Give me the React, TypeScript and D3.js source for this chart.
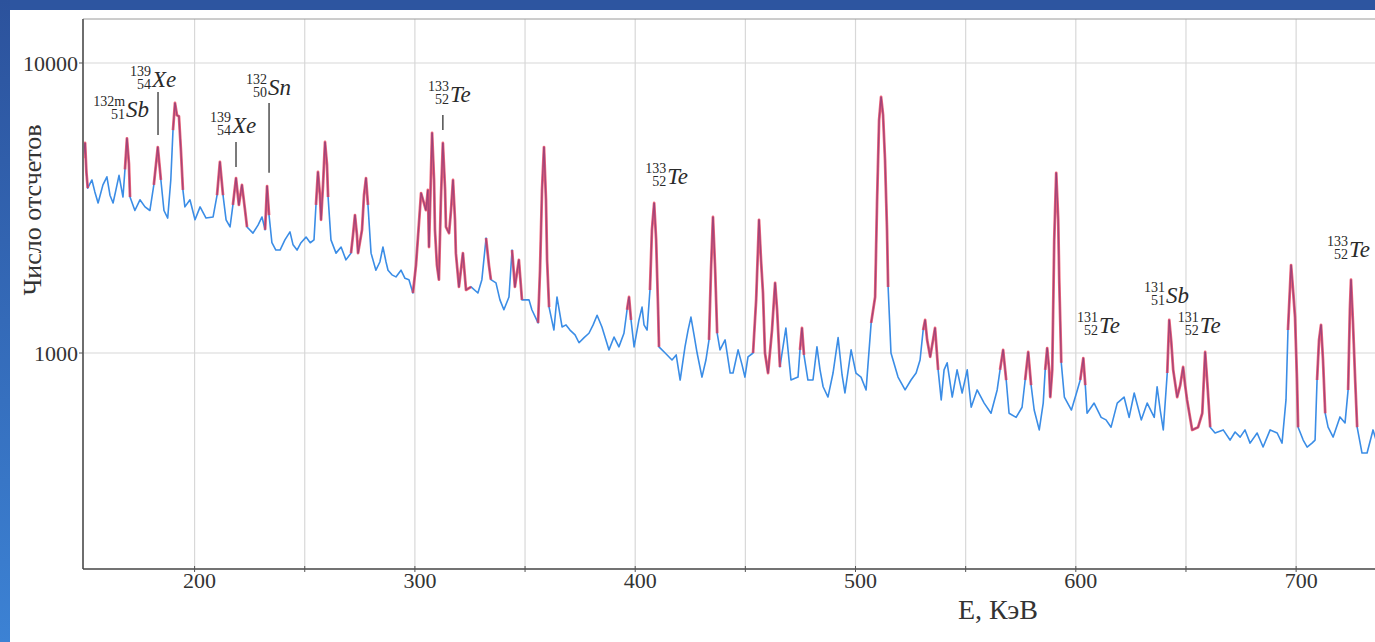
import React from 'react';
import * as d3 from 'd3';

// Gamma spectrum: [energy keV, counts]
const spectrum: [number, number][] = [
  [149.4, 4700], [150.3, 5300], [150.9, 4200], [151.5, 3700], [153.4, 3950], [154.7, 3600], [156.2, 3290],
  [158.4, 3800], [160.2, 4050], [161.6, 3500], [163.0, 3290], [164.3, 3650], [165.7, 4100], [167.5, 3450],
  [168.4, 4300], [169.3, 5500], [170.2, 4500], [170.7, 3450], [172.9, 3100], [175.2, 3375], [177.5, 3190],
  [179.7, 3100], [181.5, 3800], [183.3, 5130], [184.7, 3950], [186.1, 3100], [187.8, 2920], [189.2, 3950],
  [190.2, 5870], [191.1, 7280], [192.0, 6600], [192.9, 6550], [193.8, 5000], [194.7, 3650], [195.6, 3190],
  [197.9, 3375], [200.2, 2880], [202.5, 3190], [205.2, 2920], [208.4, 2945], [210.2, 3500], [211.5, 4560],
  [212.9, 3500], [214.3, 2880], [216.1, 2720], [217.4, 3240], [218.8, 4010], [220.1, 3240], [221.5, 3800],
  [222.9, 3110], [223.8, 2720], [226.5, 2590], [228.8, 2760], [230.6, 2945], [232.0, 2660], [232.9, 3765],
  [233.8, 2990], [235.1, 2400], [236.9, 2265], [238.8, 2265], [241.0, 2455], [243.3, 2615], [244.7, 2360],
  [246.5, 2265], [248.3, 2400], [250.6, 2510], [252.5, 2400], [254.2, 2455], [255.1, 3240], [256.0, 4210],
  [256.9, 3500], [257.4, 2880], [258.3, 3800], [259.2, 5340], [260.1, 4450], [260.6, 3450], [261.9, 2455],
  [264.2, 2210], [266.5, 2320], [268.7, 2095], [271.0, 2210], [271.9, 2550], [272.8, 2990], [273.7, 2550],
  [274.2, 2210], [276.0, 2660], [276.9, 3500], [277.8, 4010], [278.7, 3240], [280.1, 2210], [282.3, 1930],
  [284.1, 2060], [285.5, 2320], [286.9, 2060], [287.8, 1930], [289.6, 1860], [291.4, 1830], [293.7, 1930],
  [295.5, 1810], [297.3, 1790], [299.1, 1610], [300.5, 2010], [301.4, 2510], [302.8, 3560], [304.1, 3290],
  [305.0, 3110], [305.9, 3650], [306.4, 2320], [307.8, 5740], [308.7, 3950], [309.1, 2660], [310.0, 2010],
  [310.9, 1790], [311.8, 3375], [312.7, 5300], [313.7, 3650], [314.1, 2720], [315.5, 2590], [316.4, 3110],
  [317.3, 3950], [318.2, 2880], [318.6, 2210], [320.0, 1690], [321.8, 2210], [323.2, 1650], [325.5, 1690],
  [328.6, 1610], [330.4, 1790], [332.3, 2490], [333.6, 2010], [334.5, 1790], [336.8, 1745], [338.6, 1525],
  [340.4, 1410], [342.7, 1560], [344.1, 2265], [345.4, 1690], [347.2, 2095], [348.6, 1525], [351.8, 1525],
  [353.1, 1410], [355.9, 1270], [356.8, 1930], [357.7, 3650], [358.6, 5130], [359.5, 3375], [360.0, 2095],
  [360.9, 1440], [363.1, 1200], [364.5, 1560], [366.8, 1230], [368.6, 1250], [370.4, 1200], [372.7, 1155],
  [374.5, 1085], [376.8, 1130], [379.0, 1170], [380.9, 1250], [382.7, 1350], [384.9, 1230], [388.1, 1025],
  [390.4, 1135], [392.6, 1050], [394.9, 1170], [396.3, 1410], [397.2, 1560], [398.1, 1300], [399.5, 1050],
  [401.7, 1300], [403.1, 1440], [404.0, 1250], [405.4, 1200], [406.7, 1650], [407.6, 2660], [408.6, 3290],
  [409.5, 2455], [410.4, 1410], [410.8, 1050], [413.6, 1000], [416.7, 946], [418.6, 985], [420.4, 807],
  [422.6, 1050], [424.0, 1200], [425.3, 1330], [426.7, 1155], [428.1, 1000], [430.3, 826], [432.1, 946],
  [433.5, 1110], [434.4, 1930], [435.3, 2945], [436.3, 1930], [437.2, 1170], [438.5, 1025], [440.8, 1110],
  [443.1, 853], [444.4, 853], [446.7, 1025], [448.5, 910], [449.8, 826], [451.2, 970], [453.5, 1000],
  [454.9, 1525], [456.2, 2880], [457.1, 2095], [458.0, 1610], [458.9, 1000], [460.3, 853], [462.1, 1200],
  [463.5, 1745], [464.4, 1410], [465.7, 895], [468.4, 1220], [470.7, 807], [473.9, 826], [474.8, 1025],
  [475.7, 1220], [476.6, 985], [478.4, 807], [480.7, 807], [482.5, 1050], [483.9, 875], [485.3, 765],
  [487.5, 705], [489.8, 853], [492.1, 1130], [493.9, 840], [495.2, 728], [498.0, 1025], [500.2, 853],
  [502.5, 826], [504.8, 746], [507.1, 1270], [508.9, 1560], [509.8, 3375], [510.7, 6350], [511.6, 7635],
  [512.5, 6620], [513.4, 4630], [514.3, 2660], [514.8, 1690], [516.1, 1000], [519.3, 826], [522.5, 746],
  [525.2, 807], [527.5, 853], [529.3, 946], [530.7, 1200], [531.6, 1300], [532.5, 1110], [533.9, 970],
  [535.2, 1110], [536.1, 1220], [537.5, 875], [538.9, 689], [540.2, 875], [541.6, 925], [543.9, 705],
  [546.1, 875], [548.4, 728], [550.7, 875], [552.5, 650], [555.2, 746], [558.4, 672], [561.5, 620],
  [564.3, 746], [565.6, 875], [567.0, 1025], [568.4, 807], [569.7, 620], [572.9, 600], [575.6, 650],
  [577.0, 807], [578.4, 1008], [579.7, 775], [581.1, 636], [583.4, 543], [585.2, 672], [586.1, 875],
  [587.0, 1040], [587.9, 875], [588.4, 705], [589.3, 875], [590.2, 2455], [591.1, 4180], [592.0, 2880],
  [592.5, 1745], [593.4, 925], [594.8, 705], [598.0, 636], [600.7, 746], [602.0, 807], [603.4, 960],
  [604.3, 775], [605.1, 620], [608.3, 672], [611.5, 600], [613.7, 588], [616.0, 555], [618.8, 672],
  [621.9, 705], [624.2, 600], [626.5, 728], [629.7, 588], [632.4, 672], [635.6, 600], [636.9, 765],
  [638.3, 636], [639.7, 543], [641.5, 853], [642.4, 1300], [643.3, 1100], [644.2, 875], [646.0, 705],
  [647.4, 775], [648.7, 895], [649.6, 775], [650.5, 689], [652.8, 543], [655.5, 555], [657.4, 620],
  [658.7, 1008], [659.6, 807], [661.0, 555], [663.2, 530], [666.9, 543], [670.0, 501], [672.3, 534],
  [674.6, 513], [676.8, 543], [679.1, 489], [682.3, 530], [685.0, 474], [688.2, 543], [691.4, 530],
  [693.6, 489], [695.4, 689], [696.3, 1200], [697.7, 2010], [698.6, 1650], [699.5, 1330], [700.4, 807],
  [700.9, 555], [703.2, 501], [705.0, 474], [707.2, 489], [708.6, 501], [709.5, 807], [710.4, 1110],
  [711.3, 1250], [712.2, 946], [713.2, 620], [714.5, 555], [716.8, 513], [719.9, 602], [722.2, 574],
  [723.6, 746], [724.4, 1410], [724.9, 1790], [725.8, 1270], [726.8, 807], [727.7, 555], [729.9, 452],
  [732.2, 452], [734.9, 543], [736.3, 501],
];

// Energy ranges drawn with the fitted (red) curve
const fitRanges: [number, number][] = [
  [149.4, 152], [168, 171], [181, 186], [189.5, 195], [209.5, 213.5], [217, 224], [231.5, 234.5],
  [255, 261.5], [271, 279.5], [299, 326], [330.5, 334.5], [343, 349.5], [355.5, 361], [395.5, 399],
  [405.5, 411], [433.5, 437.5], [453.5, 466], [474.5, 477.5], [507, 516], [529.5, 538.5], [565.5, 569],
  [577, 580], [585.5, 594], [602, 605], [640, 661.5], [695.5, 701], [709.5, 713.5], [723.5, 728],
];

const xTickLabels = [200, 300, 400, 500, 600, 700];
const xGridValues = [200, 250, 300, 350, 400, 450, 500, 550, 600, 650, 700];
const yTickValues = [1000, 10000];

const isotopes = [
  { mass: '132m', z: '51', el: 'Sb', e: 168.9, c: 6500 },
  { mass: '139', z: '54', el: 'Xe', e: 180.7, c: 8270 },
  { mass: '139', z: '54', el: 'Xe', e: 217.0, c: 5740 },
  { mass: '132', z: '50', el: 'Sn', e: 233.3, c: 7760 },
  { mass: '133', z: '52', el: 'Te', e: 315.9, c: 7340 },
  { mass: '133', z: '52', el: 'Te', e: 414.5, c: 3830 },
  { mass: '131', z: '52', el: 'Te', e: 610.5, c: 1170 },
  { mass: '131', z: '51', el: 'Sb', e: 640.9, c: 1490 },
  { mass: '131', z: '52', el: 'Te', e: 656.3, c: 1170 },
  { mass: '133', z: '52', el: 'Te', e: 724.0, c: 2140 },
];

const leaders = [
  { e: 183.4, from: 7940, to: 5650 },
  { e: 218.8, from: 5340, to: 4380 },
  { e: 233.8, from: 7280, to: 4180 },
  { e: 312.7, from: 6620, to: 5880 },
];

export default function App() {
  const W = 1375, H = 642;
  const left = 83, right = 1375, top = 19, bottom = 569;
  const x = d3.scaleLinear().domain([149.35, 735.8]).range([left, right]);
  const y = d3.scaleLog().domain([180, 14180]).range([bottom, top]);
  const line = d3.line<[number, number]>().x(d => x(d[0])).y(d => y(d[1]));
  const serif = '"Liberation Serif", "Times New Roman", serif';

  return (
    <svg width={W} height={H} style={{ position: 'absolute', left: 0, top: 0, display: 'block' }}>
      <defs>
        <linearGradient id="leftStrip" x1="0" y1="0" x2="0" y2="1">
          <stop offset="0" stopColor="#2c529c" />
          <stop offset="1" stopColor="#3c82d4" />
        </linearGradient>
        <clipPath id="plotClip">
          <rect x={left} y={top} width={right - left} height={bottom - top} />
        </clipPath>
      </defs>
      <rect x={0} y={0} width={W} height={H} fill="#ffffff" />
      <rect x={0} y={0} width={W} height={10} fill="#2d55a0" />
      <rect x={0} y={0} width={10} height={H} fill="url(#leftStrip)" />

      {/* grid */}
      {xGridValues.map(v => (
        <line key={'gx' + v} x1={x(v)} x2={x(v)} y1={top} y2={bottom} stroke="#d8d8d8" strokeWidth={1.2} />
      ))}
      {yTickValues.map(v => (
        <line key={'gy' + v} x1={left} x2={right} y1={y(v)} y2={y(v)} stroke="#d8d8d8" strokeWidth={1.2} />
      ))}
      <line x1={left} x2={right} y1={top} y2={top} stroke="#9a9a9a" strokeWidth={1} />

      {/* spectrum */}
      <g clipPath="url(#plotClip)">
        <path d={line(spectrum) || ''} fill="none" stroke="#3b8de6" strokeWidth={1.6} strokeLinejoin="round" />
        {fitRanges.map(([a, b], i) => {
          const pts = spectrum.filter(p => p[0] >= a && p[0] <= b);
          return (
            <g key={'fit' + i}>
              <path d={line(pts) || ''} fill="none" stroke="#ee4058" strokeOpacity={0.78} strokeWidth={2.8} strokeLinejoin="round" />
              <path d={line(pts) || ''} fill="none" stroke="#5b2a78" strokeOpacity={0.35} strokeWidth={1} strokeLinejoin="round" />
            </g>
          );
        })}
      </g>

      {/* axes */}
      <line x1={left} x2={left} y1={top} y2={bottom} stroke="#6e6e6e" strokeWidth={2} />
      <line x1={left} x2={right} y1={bottom} y2={bottom} stroke="#444" strokeWidth={1.5} />
      {xGridValues.map(v => (
        <line key={'tx' + v} x1={x(v)} x2={x(v)} y1={bottom - 3} y2={bottom + 3} stroke="#555" strokeWidth={1} />
      ))}
      {yTickValues.map(v => (
        <line key={'ty' + v} x1={left - 4} x2={left} y1={y(v)} y2={y(v)} stroke="#555" strokeWidth={1} />
      ))}
      {xTickLabels.map(v => (
        <text key={'lx' + v} x={x(v) + 5} y={bottom + 19} textAnchor="middle" fontFamily={serif} fontSize={22} fill="#333">
          {v}
        </text>
      ))}
      {yTickValues.map(v => (
        <text key={'ly' + v} x={78} y={y(v) + 8} textAnchor="end" fontFamily={serif} fontSize={22} fill="#333">
          {v}
        </text>
      ))}
      <text x={998} y={619} textAnchor="middle" fontFamily={serif} fontSize={28} fill="#333">E, КэВ</text>
      <text transform="translate(41,210) rotate(-90)" textAnchor="middle" fontFamily={serif} fontSize={26} fill="#333">
        Число отсчетов
      </text>

      {/* isotope annotations */}
      {leaders.map((l, i) => (
        <line key={'ld' + i} x1={x(l.e)} x2={x(l.e)} y1={y(l.from)} y2={y(l.to)} stroke="#333" strokeWidth={1.3} />
      ))}
      {isotopes.map((a, i) => {
        const ax = x(a.e), ay = y(a.c);
        return (
          <g key={'iso' + i} fill="#2a2a2a" fontFamily={serif}>
            <text x={ax - 1} y={ay - 11} textAnchor="end" fontSize={14}>{a.mass}</text>
            <text x={ax - 1} y={ay + 2} textAnchor="end" fontSize={14}>{a.z}</text>
            <text x={ax} y={ay} fontSize={23} fontStyle="italic">{a.el}</text>
          </g>
        );
      })}
    </svg>
  );
}
